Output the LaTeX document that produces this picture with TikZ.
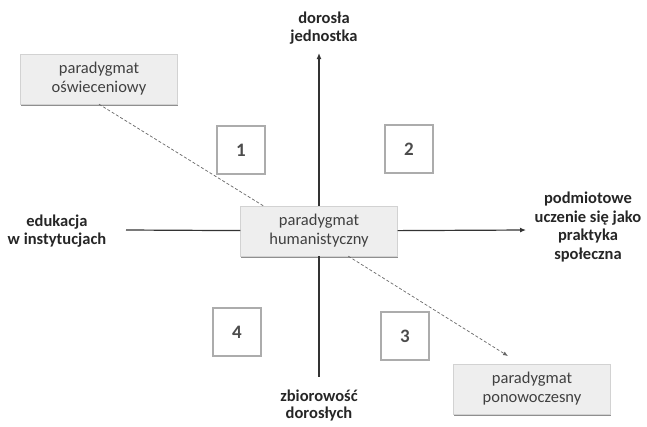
\documentclass[tikz,border=0pt]{standalone}
\usepackage{fontspec}
\setmainfont{Carlito}
\usepackage{tikz}
\usetikzlibrary{arrows.meta,shadows}

\begin{document}
\begin{tikzpicture}[
    x=1pt, y=-1pt,
    para/.style={rectangle, draw=gray!35, fill=gray!13, minimum width=157pt, minimum height=50pt, align=center, text=black!75, font=\fontsize{16.5}{19}\selectfont, drop shadow={shadow xshift=0.6pt, shadow yshift=-2pt, fill=black!55, opacity=0.8}},
    num/.style={rectangle, draw=gray!65, line width=1.3pt, fill=white, minimum width=48pt, minimum height=48pt, font=\fontsize{19}{21}\selectfont\bfseries, text=black!70},
    lab/.style={align=center, font=\fontsize{16.5}{18.5}\selectfont\bfseries, text=black!85},
    arr/.style={line width=1.2pt, draw=black!80},
    link/.style={line width=0.7pt, draw=gray!80!black, dash pattern=on 3pt off 2pt},
    tip/.style={-{Latex[length=6pt,width=5pt]}}
]
    \useasboundingbox (0,0) rectangle (647,426);

    % Paradigm boxes
    \node[para] (hum) at (319,231) {paradygmat\\humanistyczny};
    \node[para] (osw) at (99,79) {paradygmat\\oświeceniowy};
    \node[para] (pon) at (532,389) {paradygmat\\ponowoczesny};

    % Quadrant numbers
    \node[num] (q1) at (241,150) {1};
    \node[num] (q2) at (409,149) {2};
    \node[num] (q3) at (405,336) {3};
    \node[num] (q4) at (237,332) {4};

    % Axis labels
    \node[lab] (dj) at (324,28) {dorosła\\jednostka};
    \node[lab] (ei) at (57,231) {edukacja\\w instytucjach};
    \node[lab] (pu) at (588,227) {podmiotowe\\uczenie się jako\\praktyka\\społeczna};
    \node[lab, font=\fontsize{16.5}{17}\selectfont\bfseries] (zd) at (319,405) {zbiorowość\\dorosłych};

    % Axis ends
    \coordinate (top) at (319,53);
    \coordinate (bot) at (319,377);
    \coordinate (lft) at (126,230);
    \coordinate (rgt) at (526,230);
    \coordinate (ptip) at (508,356);

    % Axes
    \draw[arr, tip] (hum) -- (top);
    \draw[arr] (hum) -- (bot);
    \draw[arr] (hum) -- (lft);
    \draw[arr, tip] (hum) -- (rgt);

    % Dashed links
    \draw[link] (osw.south) -- ([xshift=23pt]hum.north west);
    \draw[link, -{Latex[length=5pt,width=4pt]}] ([xshift=108pt]hum.south west) -- (ptip);

\end{tikzpicture}
\end{document}
